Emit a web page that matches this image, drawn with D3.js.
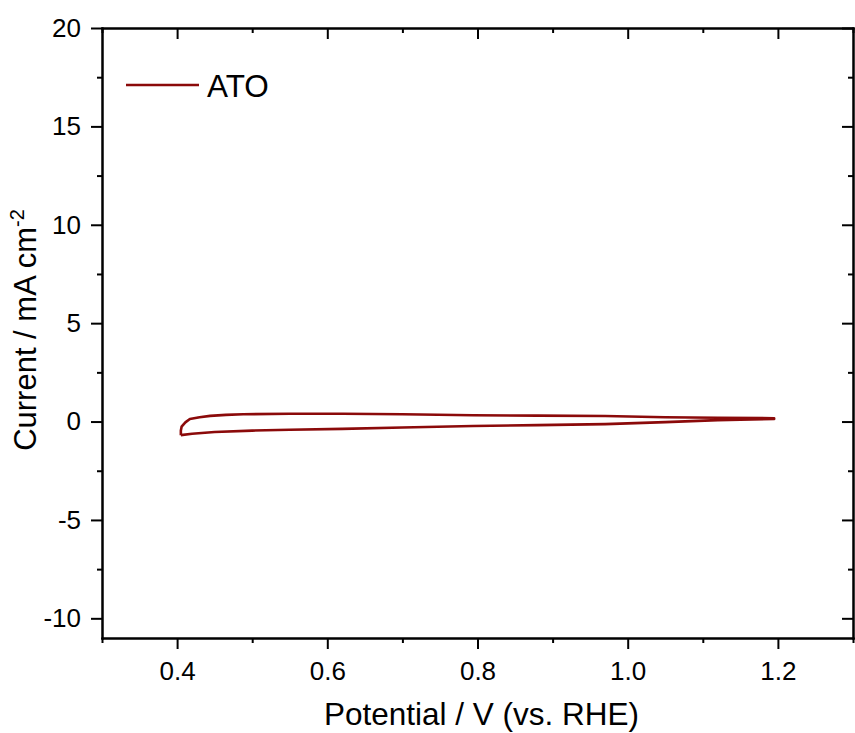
<!DOCTYPE html>
<html lang="en">
<head>
    <meta charset="UTF-8">
    <title>ATO cyclic voltammogram</title>
    <script src="https://d3js.org/d3.v7.min.js"></script>
    <style>
        body { margin: 0; background: #fff; }
        text { font-family: "Liberation Sans", Arial, sans-serif; fill: #000; }
    </style>
</head>
<body>
    <div id="chart"></div>

    <script>
        // CV loop: anodic sweep (upper) then cathodic sweep (lower)
        var potentialV = [0.405, 0.405, 0.406, 0.411, 0.417, 0.43, 0.444, 0.465, 0.488, 0.55, 0.62, 0.70, 0.794, 0.88, 0.97, 1.05, 1.12, 1.195,
                          1.195, 1.15, 1.12, 1.05, 0.97, 0.88, 0.794, 0.70, 0.62, 0.55, 0.50, 0.45, 0.42, 0.405];
        var currentMA = [-0.69, -0.45, -0.26, -0.04, 0.13, 0.22, 0.29, 0.34, 0.37, 0.40, 0.40, 0.37, 0.32, 0.30, 0.28, 0.22, 0.19, 0.17,
                          0.13, 0.10, 0.07, -0.03, -0.13, -0.18, -0.23, -0.30, -0.37, -0.42, -0.46, -0.53, -0.62, -0.69];

        var seriesName = "ATO";
        var xMajor = [0.4, 0.6, 0.8, 1.0, 1.2];
        var xMinor = [0.3, 0.5, 0.7, 0.9, 1.1, 1.3];
        var yMajor = [-10, -5, 0, 5, 10, 15, 20];
        var yMinor = [-7.5, -2.5, 2.5, 7.5, 12.5, 17.5];

        var margin = { top: 28, right: 2, bottom: 95, left: 102 },
            width = 855 - margin.left - margin.right,
            height = 733 - margin.top - margin.bottom;

        var svg = d3.select("#chart")
            .append("svg")
            .attr("width", 855)
            .attr("height", 733)
            .append("g")
            .attr("transform", "translate(" + margin.left + "," + margin.top + ")");

        var x = d3.scaleLinear().domain([0.3, 1.3]).range([0, width]);
        var y = d3.scaleLinear().domain([-11, 20]).range([height, 0]);

        // Origin uses a plain hyphen for negatives
        var yFmt = function (d) { return String(d); };

        // helper to style an axis group like Origin does
        function styleAxis(g) {
            g.selectAll("path, line").attr("stroke", "#000").attr("stroke-width", 2);
            g.select(".domain").attr("stroke-linecap", "square");
            g.selectAll("text").style("font-size", "26px");
        }

        // minor ticks first, majors drawn on top
        svg.append("g").attr("transform", "translate(0," + height + ")")
            .call(d3.axisBottom(x).tickValues(xMinor).tickSize(5).tickFormat("").tickSizeOuter(0))
            .call(styleAxis);
        svg.append("g").attr("transform", "translate(0," + height + ")")
            .call(d3.axisBottom(x).tickValues(xMajor).tickSize(11).tickPadding(13).tickFormat(d3.format(".1f")).tickSizeOuter(0))
            .call(styleAxis);

        svg.append("g")
            .call(d3.axisTop(x).tickValues(xMinor).tickSize(-5).tickFormat("").tickSizeOuter(0))
            .call(styleAxis);
        svg.append("g")
            .call(d3.axisTop(x).tickValues(xMajor).tickSize(-11).tickFormat("").tickSizeOuter(0))
            .call(styleAxis);

        svg.append("g")
            .call(d3.axisLeft(y).tickValues(yMinor).tickSize(5).tickFormat("").tickSizeOuter(0))
            .call(styleAxis);
        svg.append("g")
            .call(d3.axisLeft(y).tickValues(yMajor).tickSize(11).tickPadding(10).tickFormat(yFmt).tickSizeOuter(0))
            .call(styleAxis);

        svg.append("g").attr("transform", "translate(" + width + ",0)")
            .call(d3.axisRight(y).tickValues(yMinor).tickSize(-5).tickFormat("").tickSizeOuter(0))
            .call(styleAxis);
        svg.append("g").attr("transform", "translate(" + width + ",0)")
            .call(d3.axisRight(y).tickValues(yMajor).tickSize(-11).tickFormat("").tickSizeOuter(0))
            .call(styleAxis);

        // the CV curve
        var pts = potentialV.map(function (v, i) { return [v, currentMA[i]]; });
        var line = d3.line()
            .x(function (d) { return x(d[0]); })
            .y(function (d) { return y(d[1]); })
            .curve(d3.curveLinear);

        svg.append("path")
            .datum(pts)
            .attr("fill", "none")
            .attr("stroke", "#8b0a0a")
            .attr("stroke-width", 2.6)
            .attr("stroke-linejoin", "round")
            .attr("d", line);

        // legend
        var legend = svg.append("g").attr("transform", "translate(" + (126 - margin.left) + "," + (85 - margin.top) + ")");
        legend.append("line")
            .attr("x1", 0).attr("x2", 73)
            .attr("y1", 0).attr("y2", 0)
            .attr("stroke", "#8b0a0a")
            .attr("stroke-width", 2.6);
        legend.append("text")
            .attr("x", 81).attr("y", 12)
            .style("font-size", "31.5px")
            .text(seriesName);

        // axis titles
        svg.append("text")
            .attr("x", width / 2 + 4)
            .attr("y", height + 87)
            .attr("text-anchor", "middle")
            .style("font-size", "31.5px")
            .text("Potential / V (vs. RHE)");

        var yTitle = svg.append("text")
            .attr("transform", "translate(" + (36 - margin.left) + "," + (330 - margin.top) + ") rotate(-90)")
            .attr("text-anchor", "middle")
            .style("font-size", "31px");
        yTitle.append("tspan").text("Current / mA cm");
        yTitle.append("tspan").attr("dy", -12).style("font-size", "20px").text("-2");
    </script>
</body>
</html>
